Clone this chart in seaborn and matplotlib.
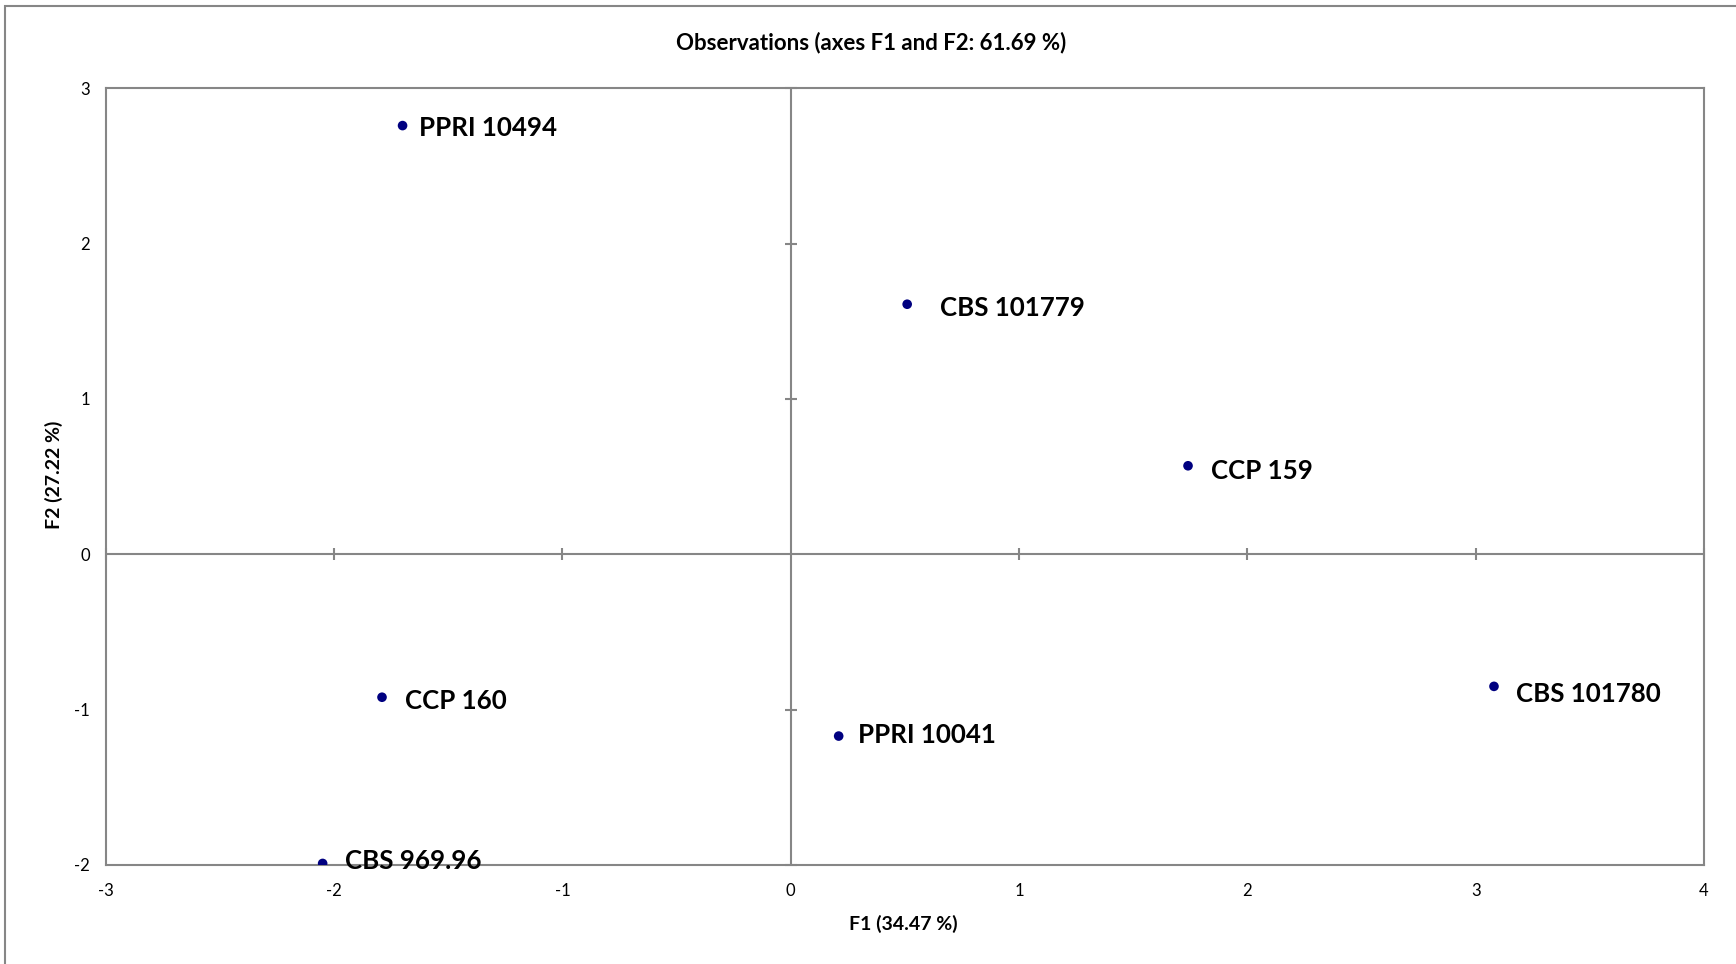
import matplotlib
matplotlib.use('Agg')
import matplotlib.pyplot as plt
import seaborn as sns
import pandas as pd
from matplotlib.patches import Rectangle

# ---- data ----
labels = ["PPRI 10494", "CBS 101779", "CCP 159", "CBS 101780", "CCP 160", "PPRI 10041", "CBS 969.96"]
f1 = [-1.70, 0.51, 1.74, 3.08, -1.79, 0.21, -2.05]
f2 = [2.76, 1.61, 0.57, -0.85, -0.92, -1.17, -1.99]
x_ticks = [-3, -2, -1, 0, 1, 2, 3, 4]
y_ticks = [-2, -1, 0, 1, 2, 3]
title = "Observations (axes F1 and F2: 61.69 %)"
x_label = "F1 (34.47 %)"
y_label = "F2 (27.22 %)"

# label placement offsets (points), styling only
label_dx = [11.6, 23.5, 16.3, 15.5, 16.3, 13.9, 16.3]
label_dy = [-1.6, -2.4, -4.0, -5.6, -2.4, 0.8, 1.6]

GRAY = '#868686'
POINT = '#000080'

sns.set_theme(style='white')
plt.rcParams['font.family'] = ['Lato', 'DejaVu Sans']

fig = plt.figure(figsize=(17.36, 9.64), dpi=100)
ax = fig.add_axes([0.0609, 0.1027, 0.9207, 0.8057])

df = pd.DataFrame({'F1': f1, 'F2': f2, 'label': labels})
sns.scatterplot(data=df, x='F1', y='F2', ax=ax, color=POINT, s=48,
                edgecolor='none', linewidth=0, zorder=4, legend=False)

ax.set_xlim(x_ticks[0], x_ticks[-1])
ax.set_ylim(y_ticks[0], y_ticks[-1])
ax.set_xticks(x_ticks)
ax.set_yticks(y_ticks)
ax.set_xticklabels([str(t) for t in x_ticks])
ax.set_yticklabels([str(t) for t in y_ticks])
ax.tick_params(axis='both', length=0, labelsize=12, colors='black')
ax.tick_params(axis='x', pad=13)
ax.tick_params(axis='y', pad=11.5)

for sp in ax.spines.values():
    sp.set_color(GRAY)
    sp.set_linewidth(1.5)
    sp.set_visible(True)

# zero axis lines with cross tick marks
ax.axhline(0, color=GRAY, lw=1.5, zorder=2)
ax.axvline(0, color=GRAY, lw=1.5, zorder=2)
xt_inner = [t for t in x_ticks if t != 0]
yt_inner = [t for t in y_ticks if t != 0]
ax.plot(xt_inner, [0] * len(xt_inner), linestyle='none', marker='|',
        markersize=9, markeredgewidth=1.5, color=GRAY, zorder=2, clip_on=False)
ax.plot([0] * len(yt_inner), yt_inner, linestyle='none', marker='_',
        markersize=9, markeredgewidth=1.5, color=GRAY, zorder=2, clip_on=False)

# point labels
for x, y, lab, dx, dy in zip(f1, f2, labels, label_dx, label_dy):
    ax.annotate(lab, (x, y), xytext=(dx, dy), textcoords='offset points',
                ha='left', va='center', fontsize=18.6, fontweight='bold',
                color='black', zorder=5, annotation_clip=False)

ax.set_xlabel(x_label, fontsize=14, fontweight='bold', color='black')
ax.set_ylabel(y_label, fontsize=14, fontweight='bold', color='black')
ax.xaxis.set_label_coords(0.499, -0.064)
ax.yaxis.set_label_coords(-0.027, 0.502)

fig.text(0.502, 0.956, title, ha='center', va='center', fontsize=16,
         fontweight='bold', color='black')

# outer chart frame (left and top edges visible)
fig.patches.append(Rectangle((5 / 1736, -0.05), 1.2, 1 - 6 / 964 + 0.05,
                             transform=fig.transFigure, fill=False,
                             edgecolor=GRAY, linewidth=1.5, zorder=0))

fig.savefig('out.png', dpi=100, facecolor='white')
